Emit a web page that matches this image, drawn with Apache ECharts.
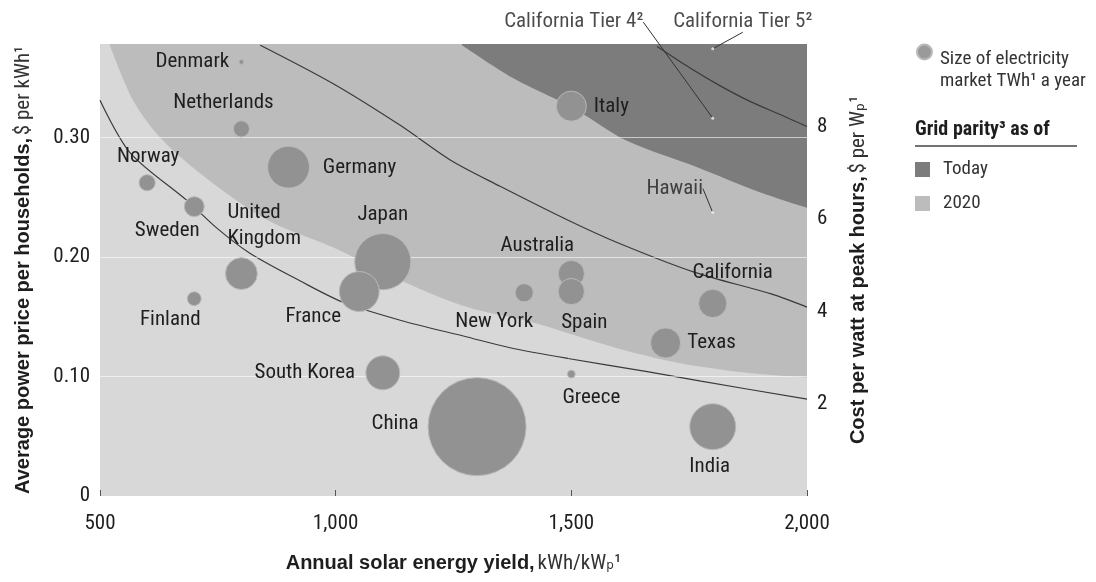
<!DOCTYPE html>
<html>
<head>
<meta charset="utf-8">
<script src="https://cdn.jsdelivr.net/npm/echarts@6/dist/echarts.min.js"></script>
<style>
  html, body { margin: 0; padding: 0; background: #ffffff; }
  #chart { width: 1096px; height: 582px; }
</style>
</head>
<body>
<div id="chart"></div>
<script>
// Solar grid parity: household power price against annual solar energy yield

// ---- data ----
const countries   = ['Denmark', 'Netherlands', 'Norway', 'Sweden', 'Germany', 'United\nKingdom', 'Finland',
                     'Japan', 'France', 'South Korea', 'China', 'Italy', 'New York', 'Australia', 'Spain',
                     'Greece', 'California', 'Texas', 'India'];
const yieldKWh    = [800, 800, 600, 700, 900, 800, 700, 1100, 1050, 1100, 1300, 1500, 1400, 1500, 1500, 1500, 1800, 1700, 1800];
const pricePerKWh = [0.363, 0.307, 0.262, 0.242, 0.275, 0.186, 0.165, 0.196, 0.171, 0.103, 0.058, 0.326, 0.170, 0.186, 0.171, 0.102, 0.161, 0.128, 0.058];
const marketTWh   = [9, 95, 95, 145, 640, 370, 70, 1150, 580, 420, 3500, 330, 120, 250, 250, 22, 290, 330, 770];

// iso-cost curves, [yield, price]
const cost2Line = [[500, 0.331], [564, 0.287], [685, 0.247], [748, 0.224], [818, 0.203], [924, 0.180], [1016, 0.162],
                   [1137, 0.147], [1279, 0.133], [1370, 0.124], [1493, 0.115], [1661, 0.104], [1775, 0.096], [2000, 0.081]];
const cost4Line = [[840, 0.377], [994, 0.345], [1137, 0.310], [1243, 0.281], [1349, 0.259], [1491, 0.231],
                   [1597, 0.212], [1762, 0.187], [1924, 0.169], [2000, 0.158]];
const cost8Line = [[1682, 0.376], [1752, 0.358], [1816, 0.343], [1879, 0.330], [1943, 0.319], [2000, 0.309]];

// lower edges of the grid-parity zones, [yield, price]
const parity2020Edge  = [[521, 0.377], [570, 0.331], [627, 0.300], [712, 0.270], [854, 0.231], [994, 0.208], [1151, 0.178],
                         [1279, 0.158], [1419, 0.145], [1593, 0.124], [1731, 0.111], [1873, 0.103], [2000, 0.099]];
const parityTodayEdge = [[1268, 0.377], [1374, 0.350], [1461, 0.333], [1499, 0.326], [1618, 0.297], [1767, 0.275],
                         [1900, 0.254], [2000, 0.241]];

// annotated points
const notes      = ['California Tier 4²', 'California Tier 5²', 'Hawaii'];
const noteYield  = [1800, 1800, 1800];
const notePrice  = [0.316, 0.374, 0.237];

// axes
const Y_MAX = 0.378;
const pricePerCostUnit = 0.0386;   // price of one $/Wp at 2,000 kWh/kWp
const xTicks = [500, 1000, 1500, 2000];
const xTickLabels = ['500', '1,000', '1,500', '2,000'];
const yTicks = [0, 0.1, 0.2, 0.3];
const yTickLabels = ['0', '0.10', '0.20', '0.30'];
const costTicks = [2, 4, 6, 8];
const costTickLabels = ['2', '4', '6', '8'];

// ---- styling ----
const FONT = "'Liberation Sans Narrow','Arial Narrow','Roboto Condensed','DejaVu Sans Condensed',Roboto,sans-serif";
const FONT_BOLD = "'Liberation Sans',Arial,sans-serif";
const TXT = '#1e1e1e';
const C_LIGHT = '#d8d8d8', C_2020 = '#bcbcbc', C_TODAY = '#7c7c7c', C_BUBBLE = '#929292', C_CURVE = '#3a3a3a';
const BUBBLE_SCALE = 1.657;

// label centre offsets from each bubble centre [dx, dy, align]
const labelPlace = {
  'Denmark': [-49, 0], 'Netherlands': [-18, -26], 'Norway': [1, -26], 'Sweden': [-27, 24], 'Germany': [71, 1],
  'United\nKingdom': [-14, -48, 'left'], 'Finland': [-24, 21], 'Japan': [0, -47], 'France': [-46, 25],
  'South Korea': [-78, 0], 'China': [-82, -3], 'Italy': [40, 1], 'New York': [-30, 29], 'Australia': [-34, -28],
  'Spain': [13, 31], 'Greece': [20, 24], 'California': [20, -31], 'Texas': [46, 0], 'India': [-3, 40]
};
const notePlace = [[-139, -96], [30, -27], [-38, -24]];

function tickLabel(ticks, labels, v) {
  const i = ticks.findIndex(t => Math.abs(t - v) < 1e-6);
  return i < 0 ? '' : labels[i];
}

const nameRich = {
  b: { fontFamily: FONT_BOLD, fontSize: 20, fontWeight: 'bold', color: TXT },
  r: { fontFamily: FONT, fontSize: 21, color: '#333' }
};

const bubbleData = countries.map((c, i) => {
  const p = labelPlace[c];
  return {
    name: c,
    value: [yieldKWh[i], pricePerKWh[i], marketTWh[i]],
    label: { offset: [p[0], p[1]], align: p[2] || 'center' }
  };
});

const BUBBLE_NAME = 'Size of electricity\nmarket TWh¹ a year';

const chart = echarts.init(document.getElementById('chart'), null, { renderer: 'canvas' });

chart.setOption({
  animation: false,
  backgroundColor: '#ffffff',
  textStyle: { fontFamily: FONT },
  grid: { left: 100, right: 289, top: 44, bottom: 86, show: true, backgroundColor: C_LIGHT, borderWidth: 0 },
  title: {
    text: 'Grid parity³ as of', left: 915, top: 120, padding: 0,
    textStyle: { fontFamily: FONT, fontSize: 20, fontWeight: 'bold', color: TXT }
  },
  graphic: [{
    type: 'line', shape: { x1: 915, y1: 146, x2: 1077, y2: 146 },
    style: { stroke: '#444', lineWidth: 1.5 }
  }],
  legend: [{
    data: [{ name: BUBBLE_NAME, icon: 'circle', itemStyle: { color: '#9a9a9a' } }],
    left: 916, top: 12, padding: 0, itemWidth: 15, itemHeight: 15, selectedMode: false,
    formatter: n => '{gap|}\n' + n.split('\n').map(s => '{t|' + s + '}').join('\n'),
    textStyle: {
      rich: {
        gap: { height: 36, lineHeight: 36, fontSize: 10 },
        t: { fontFamily: FONT, fontSize: 19, lineHeight: 22, color: '#333', padding: [0, 0, 0, 3] }
      }
    }
  }, {
    data: [
      { name: 'Today', icon: 'rect', itemStyle: { color: C_TODAY } },
      { name: '2020', icon: 'rect', itemStyle: { color: C_2020 } }
    ],
    orient: 'vertical', left: 915, top: 160, padding: 0, itemWidth: 15, itemHeight: 15, itemGap: 15,
    selectedMode: false,
    textStyle: { fontFamily: FONT, fontSize: 19, lineHeight: 15, color: '#333', padding: [0, 0, 0, 8] }
  }],
  xAxis: {
    type: 'value', min: 500, max: 2000, interval: 500,
    axisLine: { show: false },
    axisTick: { show: true, inside: true, length: 6, lineStyle: { color: '#555' } },
    splitLine: { show: false },
    axisLabel: { margin: 17, fontSize: 21, color: TXT, fontFamily: FONT,
                 formatter: v => tickLabel(xTicks, xTickLabels, v) },
    name: '{b|Annual solar energy yield,} {r|kWh/kWₚ¹}',
    nameLocation: 'middle', nameGap: 57, nameTextStyle: { rich: nameRich }
  },
  yAxis: [{
    type: 'value', min: 0, max: Y_MAX, interval: 0.1, position: 'left',
    axisLine: { show: false }, axisTick: { show: false }, splitLine: { show: false },
    axisLabel: { margin: 10, fontSize: 21, color: TXT, fontFamily: FONT,
                 formatter: v => tickLabel(yTicks, yTickLabels, v) },
    name: '{b|Average power price per households,} {r|$ per kWh¹}',
    nameLocation: 'middle', nameGap: 66, nameRotate: 90, nameTextStyle: { rich: nameRich }
  }, {
    type: 'value', min: 0, max: Y_MAX / pricePerCostUnit, interval: 2, position: 'right',
    axisLine: { show: false }, axisTick: { show: false }, splitLine: { show: false },
    axisLabel: { margin: 10, fontSize: 21, color: TXT, fontFamily: FONT,
                 formatter: v => tickLabel(costTicks, costTickLabels, v) },
    name: '{b|Cost per watt at peak hours,} {r|$ per Wₚ¹}',
    nameLocation: 'middle', nameGap: 41, nameRotate: 90, nameTextStyle: { rich: nameRich }
  }],
  series: [
    {
      name: '2020', type: 'line', data: parity2020Edge, smooth: 0.3, symbol: 'none', silent: true, z: 1,
      itemStyle: { color: C_2020 }, lineStyle: { width: 0, opacity: 0 },
      areaStyle: { color: C_2020, opacity: 1, origin: 'end' }
    },
    {
      name: 'Today', type: 'line', data: parityTodayEdge, smooth: 0.3, symbol: 'none', silent: true, z: 2,
      itemStyle: { color: C_TODAY }, lineStyle: { width: 0, opacity: 0 },
      areaStyle: { color: C_TODAY, opacity: 1, origin: 'end' }
    },
    {
      name: 'gridlines', type: 'line', data: [], z: 3, silent: true,
      markLine: {
        silent: true, symbol: 'none', label: { show: false },
        lineStyle: { color: 'rgba(255,255,255,0.6)', width: 1, type: 'solid' },
        data: yTicks.filter(v => v > 0).map(v => ({ yAxis: v }))
      }
    },
    ...[['cost 2', cost2Line], ['cost 4', cost4Line], ['cost 8', cost8Line]].map(([n, d]) => ({
      name: n, type: 'line', data: d, smooth: 0.3,
      symbol: 'none', silent: true, z: 4, lineStyle: { color: C_CURVE, width: 1.2 }
    })),
    {
      name: BUBBLE_NAME, type: 'scatter', data: bubbleData, z: 5, silent: true,
      symbolSize: v => BUBBLE_SCALE * Math.sqrt(v[2]),
      itemStyle: { color: C_BUBBLE, borderColor: '#b9b9b9', borderWidth: 1, opacity: 1 },
      label: { show: true, position: 'inside', formatter: '{b}', verticalAlign: 'middle',
               fontFamily: FONT, fontSize: 21, lineHeight: 26, color: TXT }
    },
    {
      name: 'notes', type: 'scatter', z: 6, silent: true, clip: false,
      data: notes.map((n, i) => ({ name: n, value: [noteYield[i], notePrice[i]] })),
      symbolSize: 3, itemStyle: { color: '#ececec' },
      label: { show: true, position: 'inside', formatter: '{b}', fontFamily: FONT, fontSize: 21, color: TXT },
      labelLayout: p => ({ dx: notePlace[p.dataIndex][0], dy: notePlace[p.dataIndex][1] }),
      labelLine: { show: true, lineStyle: { color: '#333', width: 1 } }
    }
  ]
});
</script>
</body>
</html>
